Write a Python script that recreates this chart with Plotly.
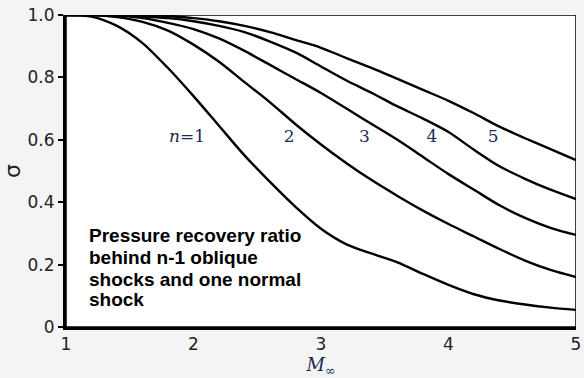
import plotly.graph_objects as go

mach = [1.0, 1.2, 1.4, 1.6, 1.8, 2.0, 2.2, 2.4, 2.6, 2.8, 3.0,
        3.2, 3.4, 3.6, 3.8, 4.0, 4.2, 4.4, 4.6, 4.8, 5.0]

sigma_n1 = [1.0, 0.995, 0.965, 0.91, 0.83, 0.74, 0.645, 0.55, 0.465, 0.385, 0.315,
            0.265, 0.235, 0.207, 0.17, 0.135, 0.105, 0.085, 0.072, 0.062, 0.055]
sigma_n2 = [1.0, 1.0, 0.993, 0.978, 0.95, 0.905, 0.85, 0.785, 0.72, 0.65, 0.585,
            0.525, 0.47, 0.42, 0.373, 0.33, 0.29, 0.25, 0.213, 0.183, 0.16]
sigma_n3 = [1.0, 1.0, 0.998, 0.99, 0.975, 0.955, 0.925, 0.885, 0.84, 0.795, 0.75,
            0.70, 0.65, 0.60, 0.545, 0.49, 0.44, 0.39, 0.35, 0.318, 0.295]
sigma_n4 = [1.0, 1.0, 1.0, 0.995, 0.99, 0.98, 0.965, 0.945, 0.915, 0.88, 0.835,
            0.79, 0.75, 0.707, 0.668, 0.625, 0.568, 0.515, 0.475, 0.44, 0.41]
sigma_n5 = [1.0, 1.0, 1.0, 1.0, 0.997, 0.99, 0.98, 0.965, 0.945, 0.92, 0.895,
            0.862, 0.83, 0.795, 0.76, 0.725, 0.685, 0.642, 0.605, 0.57, 0.535]

series = [sigma_n1, sigma_n2, sigma_n3, sigma_n4, sigma_n5]

curve_labels = ["<i>n</i>=1", "2", "3", "4", "5"]
label_x = [1.95, 2.75, 3.34, 3.87, 4.35]
label_y = [0.606, 0.606, 0.606, 0.606, 0.606]

x_ticks = [1, 2, 3, 4, 5]
y_ticks = [0, 0.2, 0.4, 0.6, 0.8, 1.0]
y_tick_text = ["0", "0.2", "0.4", "0.6", "0.8", "1.0"]

note_lines = ["Pressure recovery ratio", "behind n-1 oblique",
              "shocks and one normal", "shock"]
note_y = [0.292, 0.223, 0.153, 0.087]

fig = go.Figure()
for s in series:
    fig.add_trace(go.Scatter(x=mach, y=s, mode="lines",
                             line=dict(color="black", width=2.4, shape="spline", smoothing=0.8),
                             showlegend=False, hoverinfo="skip"))

fig.add_trace(go.Scatter(x=label_x, y=label_y, mode="text", text=curve_labels,
                         textfont=dict(family="DejaVu Serif, Liberation Serif, serif", size=17, color="#1c2a55"),
                         showlegend=False, hoverinfo="skip"))

# frame (thin top/right)
fig.add_shape(type="rect", xref="x", yref="y", x0=1, x1=5, y0=0, y1=1,
              line=dict(color="black", width=1.5), layer="above")

for line, yy in zip(note_lines, note_y):
    fig.add_annotation(x=1.165, y=yy, xref="x", yref="y", text="<b>" + line + "</b>",
                       showarrow=False, xanchor="left", yanchor="middle", align="left",
                       font=dict(family="Liberation Sans, Arial, sans-serif", size=19, color="black"))

fig.update_layout(
    width=584, height=378,
    margin=dict(l=66, r=3, t=15, b=51),
    paper_bgcolor="#f4f4f4", plot_bgcolor="white",
    xaxis=dict(range=[1, 5], tickvals=x_ticks, ticktext=[str(v) for v in x_ticks],
               showgrid=False, zeroline=False, showline=True, linecolor="black", linewidth=3,
               ticks="", ticklabeloverflow="allow",
               tickfont=dict(family="DejaVu Sans, sans-serif", size=17, color="#222"),
               title=dict(text="<i>M</i><sub>∞</sub>", standoff=4,
                          font=dict(family="DejaVu Serif, Liberation Serif, serif", size=18, color="#1c2a55"))),
    yaxis=dict(range=[0, 1], tickvals=y_ticks, ticktext=y_tick_text,
               showgrid=False, zeroline=False, showline=True, linecolor="black", linewidth=3,
               ticks="outside", ticklen=5, tickwidth=1.5, tickcolor="black",
               tickfont=dict(family="DejaVu Sans, sans-serif", size=17, color="#222"),
               title=dict(text="σ", standoff=6,
                          font=dict(family="DejaVu Sans, sans-serif", size=22, color="#222"))),
)

fig.write_html("out.html")
